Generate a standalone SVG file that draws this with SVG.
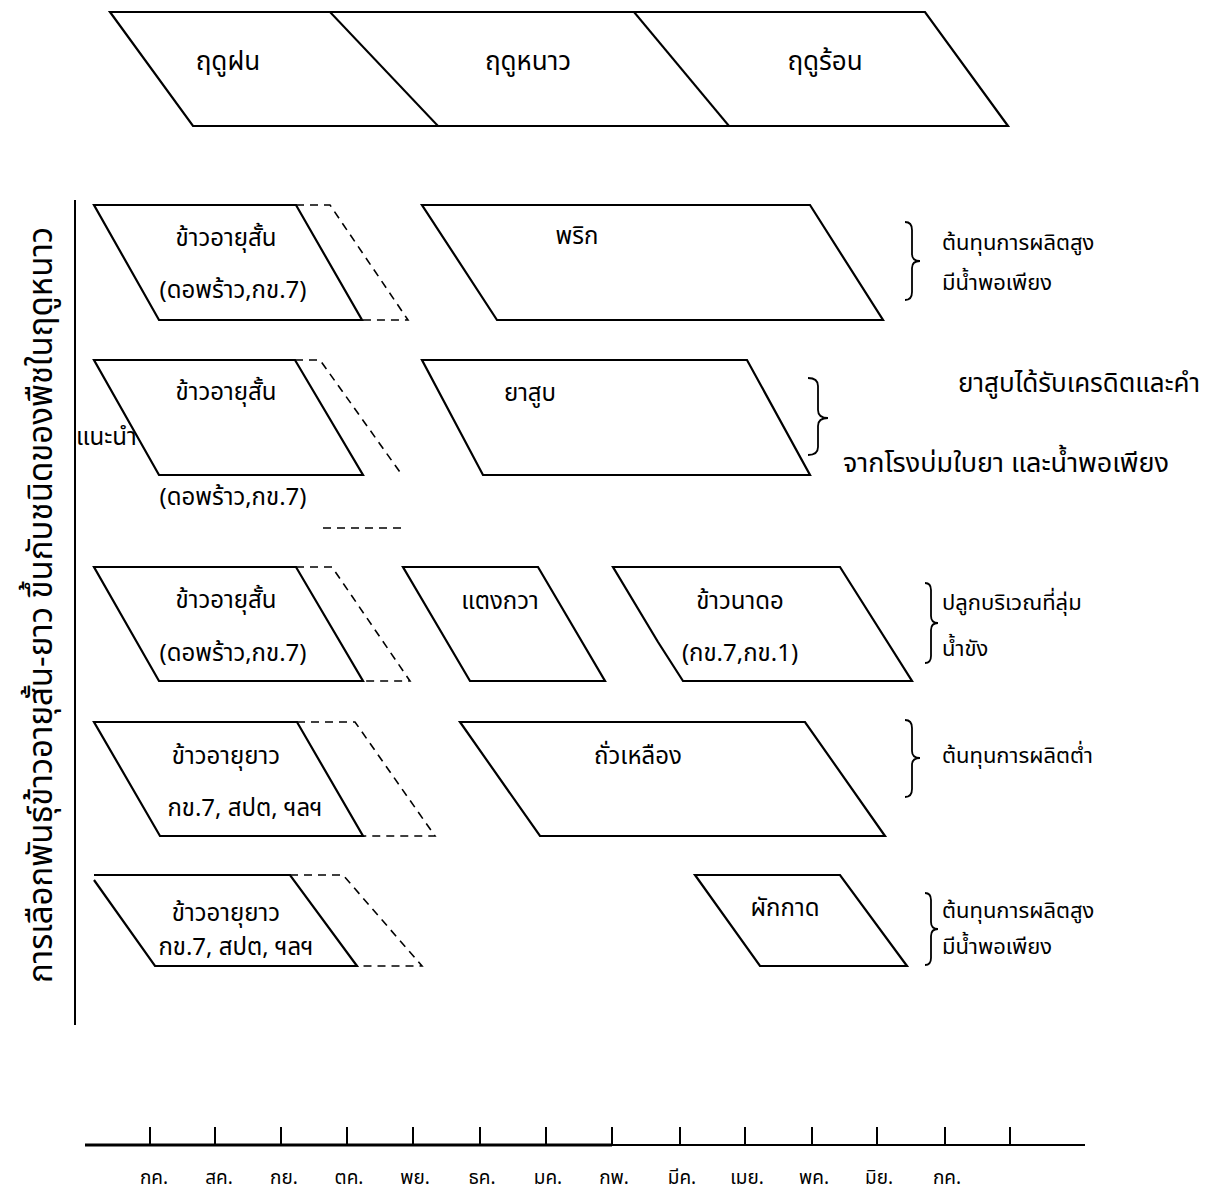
<svg xmlns="http://www.w3.org/2000/svg" width="1206" height="1196" viewBox="0 0 1206 1196">
<style>
text{font-family:"Noto Sans Thai","Noto Sans","DejaVu Sans",sans-serif;fill:#000;}
.t{font-size:24px;}
.n{font-size:22px;}
.c{text-anchor:middle;}
.h{font-size:26px;text-anchor:middle;}
.ax{font-size:19px;text-anchor:middle;}
.box{fill:none;stroke:#000;stroke-width:2.2;stroke-linejoin:miter;}
.dash{fill:none;stroke:#000;stroke-width:1.6;stroke-dasharray:8 6;}
.ln{fill:none;stroke:#000;stroke-width:2;}
.br{fill:none;stroke:#000;stroke-width:1.8;}
</style>
<rect width="1206" height="1196" fill="#fff"/>

<g id="header">
<polygon class="box" points="110,12 925,12 1008,126 193,126"/>
<line class="ln" x1="330" y1="12" x2="438" y2="126"/>
<line class="ln" x1="634" y1="12" x2="729" y2="126"/>
<text class="h" x="228" y="70">ฤดูฝน</text>
<text class="h" x="528" y="70">ฤดูหนาว</text>
<text class="h" x="825" y="70">ฤดูร้อน</text>
</g>

<g id="axis-label">
<line class="ln" x1="75" y1="200" x2="75" y2="1025"/>
<text class="c" font-size="33" transform="translate(52,605) rotate(-90)">การเลือกพันธุ์ข้าวอายุสั้น-ยาว ขึ้นกับชนิดของพืชในฤดูหนาว</text>
</g>

<g id="row1">
<g id="rice1">
<polygon class="box" points="94,205 296,205 362,320 159,320"/>
<polyline class="dash" points="296,205 330,205 408,320 362,320"/>
<text class="t c" x="226" y="246">ข้าวอายุสั้น</text>
<text class="t c" x="233" y="298">(ดอพร้าว,กข.7)</text>
</g>
<g id="prik">
<polygon class="box" points="422,205 810,205 883,320 497,320"/>
<text class="t c" x="577" y="244">พริก</text>
</g>
<g id="note1">
<path class="br" d="M905,222 Q912,222 912,230 L912,254 Q912,261 920,261 Q912,261 912,268 L912,292 Q912,300 905,300"/>
<text class="n" x="942" y="250">ต้นทุนการผลิตสูง</text>
<text class="n" x="942" y="290">มีน้ำพอเพียง</text>
</g>
</g>

<g id="row2">
<g id="rice2">
<polygon class="box" points="94,360 295,360 363,475 159,475"/>
<polyline class="dash" points="295,360 320,360 402,475"/>
<line class="dash" x1="323" y1="528" x2="403" y2="528"/>
<text class="t c" x="226" y="400">ข้าวอายุสั้น</text>
<text class="t c" x="233" y="505">(ดอพร้าว,กข.7)</text>
<text class="t" x="76" y="445">แนะนำ</text>
</g>
<g id="tobacco">
<polygon class="box" points="422,360 747,360 810,475 483,475"/>
<text class="t c" x="530" y="401">ยาสูบ</text>
</g>
<g id="note2">
<path class="br" d="M808,378 Q818,378 818,386 L818,410 Q818,418 828,418 Q818,418 818,426 L818,447 Q818,455 808,455"/>
<text font-size="26" x="1200" y="392" text-anchor="end">ยาสูบได้รับเครดิตและคำ</text>
<text font-size="27" x="843" y="472">จากโรงบ่มใบยา และน้ำพอเพียง</text>
</g>
</g>

<g id="row3">
<g id="rice3">
<polygon class="box" points="94,567 296,567 363,681 159,681"/>
<polyline class="dash" points="296,567 332,567 410,681 363,681"/>
<text class="t c" x="226" y="608">ข้าวอายุสั้น</text>
<text class="t c" x="233" y="661">(ดอพร้าว,กข.7)</text>
</g>
<g id="cucumber">
<polygon class="box" points="403,567 538,567 605,681 470,681"/>
<text class="t c" x="500" y="609">แตงกวา</text>
</g>
<g id="upland-rice">
<polygon class="box" points="613,567 840,567 912,681 683,681 658,642"/>
<text class="t c" x="740" y="609">ข้าวนาดอ</text>
<text class="t c" x="740" y="661">(กข.7,กข.1)</text>
</g>
<g id="note3">
<path class="br" d="M925,583 Q931,583 931,590 L931,616 Q931,623 938,623 Q931,623 931,630 L931,656 Q931,663 925,663"/>
<text class="n" x="942" y="610">ปลูกบริเวณที่ลุ่ม</text>
<text class="n" x="942" y="656">น้ำขัง</text>
</g>
</g>

<g id="row4">
<g id="rice4">
<polygon class="box" points="94,722 297,722 363,836 160,836"/>
<polyline class="dash" points="297,722 355,722 435,836 363,836"/>
<text class="t c" x="226" y="764">ข้าวอายุยาว</text>
<text class="t c" x="245" y="816">กข.7, สปต, ฯลฯ</text>
</g>
<g id="soybean">
<polygon class="box" points="460,722 805,722 885,836 540,836"/>
<text class="t c" x="638" y="764">ถั่วเหลือง</text>
</g>
<g id="note4">
<path class="br" d="M905,720 Q912,720 912,728 L912,751 Q912,758 920,758 Q912,758 912,765 L912,789 Q912,797 905,797"/>
<text class="n" x="942" y="763">ต้นทุนการผลิตต่ำ</text>
</g>
</g>

<g id="row5">
<g id="rice5">
<polyline class="box" points="94,880 155,966 357,966 290,875 94,875"/>
<polyline class="dash" points="290,875 343,875 422,966 357,966"/>
<text class="t c" x="226" y="921">ข้าวอายุยาว</text>
<text class="t c" x="236" y="955">กข.7, สปต, ฯลฯ</text>
</g>
<g id="mustard">
<polygon class="box" points="695,875 840,875 907,966 760,966"/>
<text class="t c" x="785" y="916">ผักกาด</text>
</g>
<g id="note5">
<path class="br" d="M925,893 Q931,893 931,900 L931,922 Q931,929 938,929 Q931,929 931,936 L931,958 Q931,965 925,965"/>
<text class="n" x="942" y="918">ต้นทุนการผลิตสูง</text>
<text class="n" x="942" y="954">มีน้ำพอเพียง</text>
</g>
</g>

<g id="time-axis">
<line class="ln" x1="85" y1="1145" x2="1085" y2="1145"/>
<line x1="85" y1="1145" x2="612" y2="1145" stroke="#000" stroke-width="3"/>
<g class="ln">
<line x1="150" y1="1127" x2="150" y2="1145"/>
<line x1="215" y1="1127" x2="215" y2="1145"/>
<line x1="281" y1="1127" x2="281" y2="1145"/>
<line x1="347" y1="1127" x2="347" y2="1145"/>
<line x1="413" y1="1127" x2="413" y2="1145"/>
<line x1="480" y1="1127" x2="480" y2="1145"/>
<line x1="546" y1="1127" x2="546" y2="1145"/>
<line x1="612" y1="1127" x2="612" y2="1145"/>
<line x1="680" y1="1127" x2="680" y2="1145"/>
<line x1="745" y1="1127" x2="745" y2="1145"/>
<line x1="812" y1="1127" x2="812" y2="1145"/>
<line x1="877" y1="1127" x2="877" y2="1145"/>
<line x1="945" y1="1127" x2="945" y2="1145"/>
<line x1="1010" y1="1127" x2="1010" y2="1145"/>
</g>
<text class="ax" x="154" y="1184">กค.</text>
<text class="ax" x="219" y="1184">สค.</text>
<text class="ax" x="284" y="1184">กย.</text>
<text class="ax" x="349" y="1184">ตค.</text>
<text class="ax" x="415" y="1184">พย.</text>
<text class="ax" x="482" y="1184">ธค.</text>
<text class="ax" x="548" y="1184">มค.</text>
<text class="ax" x="614" y="1184">กพ.</text>
<text class="ax" x="682" y="1184">มีค.</text>
<text class="ax" x="747" y="1184">เมย.</text>
<text class="ax" x="814" y="1184">พค.</text>
<text class="ax" x="879" y="1184">มิย.</text>
<text class="ax" x="947" y="1184">กค.</text>
</g>
</svg>
